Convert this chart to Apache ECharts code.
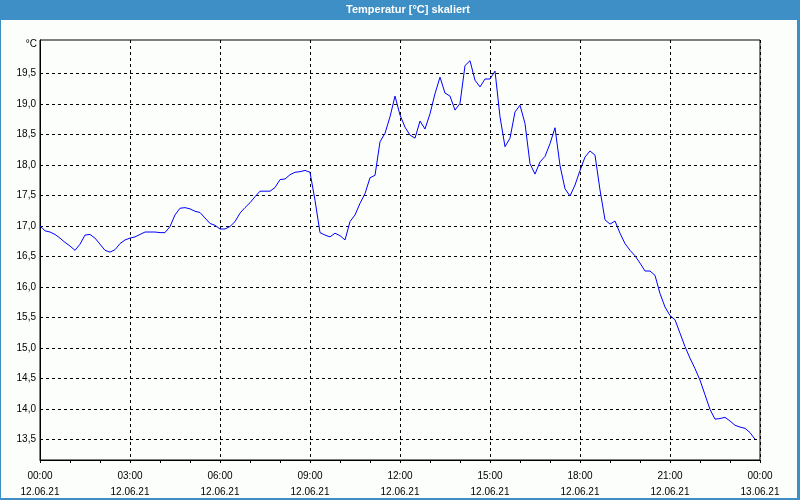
<!DOCTYPE html>
<html>
<head>
<meta charset="utf-8">
<script src="https://cdn.jsdelivr.net/npm/echarts@6/dist/echarts.min.js"></script>
<style>
html,body{margin:0;padding:0;background:#fcfefc;}
#c{width:800px;height:500px;}
</style>
</head>
<body>
<div id="c"></div>
<script>
const chartTitle = 'Temperatur [°C] skaliert';
const unitLabel = '°C';
const sampleStepHours = 1 / 6; // one sample every 10 minutes, starting 12.06.21 00:00
const temperatures = [
  17.00,16.92,16.90,16.86,16.80,16.73,16.67,16.60,16.70,16.85,
  16.86,16.80,16.70,16.60,16.57,16.61,16.71,16.77,16.80,16.82,
  16.86,16.90,16.90,16.90,16.89,16.89,16.99,17.18,17.29,17.30,
  17.28,17.24,17.22,17.13,17.04,17.01,16.95,16.95,16.99,17.07,
  17.21,17.30,17.38,17.48,17.57,17.57,17.57,17.63,17.76,17.77,
  17.84,17.88,17.89,17.91,17.88,17.42,16.89,16.85,16.82,16.88,
  16.84,16.77,17.07,17.18,17.37,17.53,17.79,17.83,18.38,18.52,
  18.79,19.13,18.82,18.62,18.49,18.44,18.72,18.59,18.84,19.17,
  19.44,19.18,19.13,18.90,19.01,19.63,19.71,19.39,19.28,19.41,
  19.41,19.54,18.79,18.30,18.44,18.87,18.98,18.68,18.02,17.85,
  18.05,18.14,18.35,18.61,17.99,17.61,17.49,17.67,17.91,18.13,
  18.23,18.16,17.59,17.10,17.03,17.08,16.88,16.71,16.60,16.51,
  16.39,16.26,16.26,16.19,15.89,15.67,15.53,15.46,15.24,15.02,
  14.83,14.66,14.47,14.23,13.99,13.83,13.84,13.86,13.80,13.73,
  13.70,13.68,13.61,13.50
];
const yTicks = [13.5,14.0,14.5,15.0,15.5,16.0,16.5,17.0,17.5,18.0,18.5,19.0,19.5];
const xTickLabels = [
  '00:00\n12.06.21','03:00\n12.06.21','06:00\n12.06.21','09:00\n12.06.21',
  '12:00\n12.06.21','15:00\n12.06.21','18:00\n12.06.21','21:00\n12.06.21',
  '00:00\n13.06.21'
];
const yMin = 13.16, yMax = 20.05;

const seriesData = temperatures.map((v, i) => [i * sampleStepHours, v]);
const FONT = "'Liberation Sans',sans-serif";

const chart = echarts.init(document.getElementById('c'), null, {renderer: 'canvas'});
chart.setOption({
  backgroundColor: '#fcfefc',
  animation: false,
  grid: {left: 40, right: 40, top: 40, bottom: 40, show: true, borderColor: '#000', borderWidth: 1, backgroundColor: 'transparent'},
  graphic: [
    {type: 'rect', left: 0, top: 0, shape: {width: 800, height: 20}, style: {fill: '#3d8fc6'}, z: 10},
    {type: 'text', x: 408, y: 10, style: {text: chartTitle, fill: '#ffffff', font: "bold 11px 'Liberation Sans',sans-serif", align: 'center', verticalAlign: 'middle'}, z: 11},
    {type: 'rect', left: 0, top: 0, shape: {width: 1, height: 500}, style: {fill: '#3d8fc6'}, z: 10},
    {type: 'rect', left: 797, top: 0, shape: {width: 3, height: 500}, style: {fill: '#3d8fc6'}, z: 10},
    {type: 'rect', left: 0, top: 498, shape: {width: 800, height: 2}, style: {fill: '#3d8fc6'}, z: 10},
    {type: 'text', x: 37, y: 44, style: {text: unitLabel, fill: '#000', font: "10px " + FONT, align: 'right', verticalAlign: 'middle'}, z: 11}
  ],
  xAxis: {
    type: 'value', min: 0, max: 24, interval: 3,
    axisLine: {show: true, lineStyle: {color: '#000', width: 1}},
    axisTick: {show: true, length: 3, lineStyle: {color: '#000'}},
    minorTick: {show: true, splitNumber: 3, length: 3, lineStyle: {color: '#000'}},
    splitLine: {show: true, lineStyle: {color: '#000', type: [3, 3], width: 1}},
    axisLabel: {
      margin: 8, color: '#000', fontFamily: FONT, fontSize: 10, lineHeight: 16,
      formatter: v => xTickLabels[Math.round(v / 3)] || ''
    }
  },
  yAxis: {
    type: 'value', min: yMin, max: yMax,
    axisLine: {show: true, lineStyle: {color: '#000', width: 1}},
    axisTick: {show: false, customValues: yTicks},
    splitLine: {show: true, lineStyle: {color: '#000', type: [3, 3], width: 1}},
    axisLabel: {
      customValues: yTicks, margin: 4, color: '#000', fontFamily: FONT, fontSize: 10,
      formatter: v => v.toFixed(1).replace('.', ',')
    }
  },
  series: [{
    type: 'line', data: seriesData, showSymbol: false, smooth: false,
    lineStyle: {color: '#0000ff', width: 1}, itemStyle: {color: '#0000ff'}
  }]
});
</script>
</body>
</html>
